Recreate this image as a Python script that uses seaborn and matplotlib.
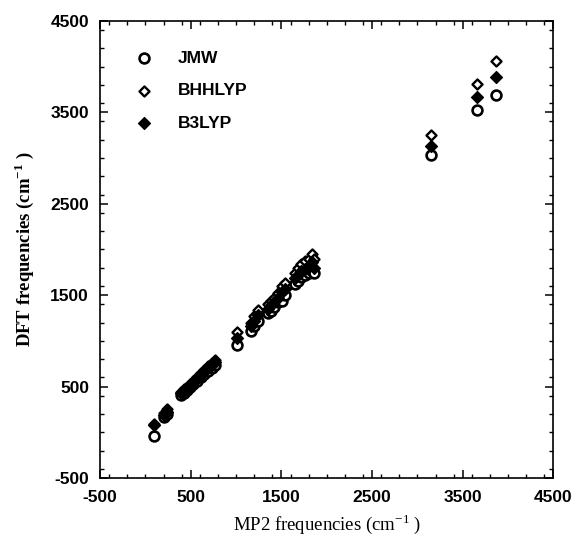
import matplotlib
matplotlib.use("Agg")
import matplotlib.pyplot as plt
import seaborn as sns
import pandas as pd
from matplotlib.ticker import MultipleLocator

# MP2 reference frequencies (cm-1)
mp2 = [95, 200, 235, 395, 420, 455, 490, 530, 570, 610, 650, 690, 730, 765,
       1010, 1165, 1200, 1240, 1350, 1380, 1420, 1460, 1510, 1540,
       1650, 1680, 1720, 1760, 1800, 1840, 1860, 3150, 3660, 3870]
jmw = [-45, 170, 195, 410, 430, 460, 490, 525, 560, 600, 640, 675, 705, 740,
       955, 1110, 1160, 1220, 1300, 1330, 1370, 1420, 1440, 1500,
       1620, 1660, 1700, 1720, 1740, 1760, 1740, 3030, 3520, 3690]
bhhlyp = [95, 215, 255, 445, 470, 500, 530, 565, 600, 645, 685, 720, 760, 790,
          1095, 1200, 1270, 1340, 1400, 1440, 1470, 1520, 1600, 1630,
          1740, 1800, 1840, 1870, 1900, 1950, 1900, 3250, 3805, 4060]
b3lyp = [80, 190, 225, 425, 450, 480, 510, 545, 585, 625, 665, 705, 735, 770,
         1030, 1160, 1220, 1280, 1350, 1390, 1420, 1470, 1530, 1570,
         1690, 1720, 1760, 1790, 1820, 1860, 1800, 3130, 3665, 3885]

series_names = ["JMW", "BHHLYP", "B3LYP"]
ticks = [-500, 500, 1500, 2500, 3500, 4500]

sns.set_style("white")
plt.rcParams["font.family"] = ["Liberation Sans", "DejaVu Sans"]
plt.rcParams["axes.unicode_minus"] = False
for k in ["text.color", "axes.labelcolor", "xtick.color", "ytick.color",
          "axes.edgecolor"]:
    plt.rcParams[k] = "black"

fig = plt.figure(figsize=(5.82, 5.5), dpi=100)
ax = fig.add_axes([0.172, 0.131, 0.779, 0.831])

df_j = pd.DataFrame({"x": mp2, "y": jmw})
df_h = pd.DataFrame({"x": mp2, "y": bhhlyp})
df_b = pd.DataFrame({"x": mp2, "y": b3lyp})

sns.scatterplot(data=df_j, x="x", y="y", ax=ax, marker="o", s=50,
                facecolor="white", edgecolor="black", linewidth=1.9,
                label=series_names[0], zorder=3)
sns.scatterplot(data=df_h, x="x", y="y", ax=ax, marker="D", s=26,
                facecolor="white", edgecolor="black", linewidth=1.7,
                label=series_names[1], zorder=4)
sns.scatterplot(data=df_b, x="x", y="y", ax=ax, marker="D", s=36,
                facecolor="black", edgecolor="black", linewidth=1.0,
                label=series_names[2], zorder=5)

ax.set_xlim(-500, 4500)
ax.set_ylim(-500, 4500)
ax.set_xticks(ticks)
ax.set_yticks(ticks)
ax.xaxis.set_minor_locator(MultipleLocator(200))
ax.yaxis.set_minor_locator(MultipleLocator(200))
ax.tick_params(which="both", direction="in", top=True, right=True,
               bottom=True, left=True, color="black", labelcolor="black")
ax.tick_params(which="major", length=6, width=1.1)
ax.tick_params(which="minor", length=3, width=1.0)
for lab in ax.get_xticklabels() + ax.get_yticklabels():
    lab.set_fontweight("bold")
    lab.set_fontsize(12.5)
    lab.set_color("black")
ax.tick_params(axis="x", pad=9)
ax.tick_params(axis="y", pad=8)
for sp in ax.spines.values():
    sp.set_visible(True)
    sp.set_color("black")
    sp.set_linewidth(1.2)

ax.set_xlabel("MP2 frequencies (cm$^{\\mathregular{-1}}$ )",
              family=["Liberation Serif"], fontsize=13.5, labelpad=5,
              color="black")
ax.set_ylabel("DFT frequencies (cm$^{\\mathregular{-1}}$ )",
              family=["Liberation Serif"], fontsize=13.5, fontweight="bold",
              labelpad=10, color="black")

leg = ax.legend(loc="upper left", bbox_to_anchor=(0.079, 0.935), frameon=False,
                borderaxespad=0, borderpad=0, handlelength=0.9,
                handletextpad=1.5, labelspacing=1.0,
                prop={"family": "Liberation Sans", "weight": "bold", "size": 12.5})
for t in leg.get_texts():
    t.set_color("black")

fig.savefig("out.png", dpi=100)
